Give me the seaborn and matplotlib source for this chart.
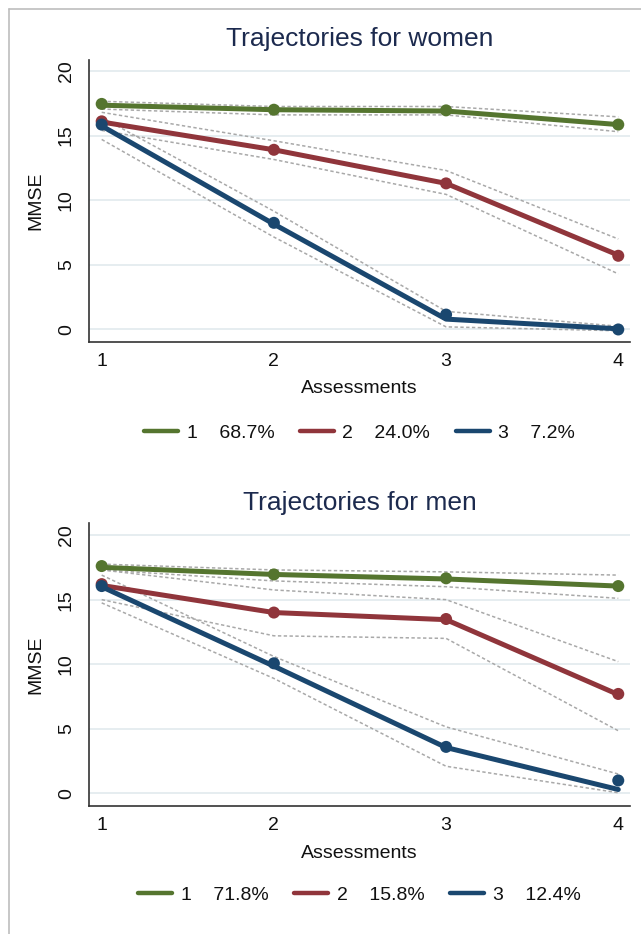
"""
Group-based MMSE trajectories for women and men (Stata-like look).
"""

import numpy as np
import pandas as pd
import matplotlib
matplotlib.use("Agg")
import matplotlib.pyplot as plt
from matplotlib.lines import Line2D
import seaborn as sns

# ---- data -------------------------------------------------------------
assessments = [1, 2, 3, 4]
groups = ["1", "2", "3"]
colors = ["#55752f", "#90353b", "#1a476f"]

# women
women_share = ["68.7%", "24.0%", "7.2%"]
women_obs = {
    "1": [17.45, 17.0, 16.95, 15.85],
    "2": [16.1, 13.9, 11.3, 5.7],
    "3": [15.85, 8.25, 1.15, 0.0],
}
women_pred = {
    "1": [17.35, 17.0, 16.9, 15.85],
    "2": [16.05, 13.9, 11.3, 5.75],
    "3": [15.75, 8.15, 0.8, 0.05],
}
women_upper = {
    "1": [17.65, 17.25, 17.25, 16.45],
    "2": [16.8, 14.6, 12.3, 7.0],
    "3": [16.4, 9.15, 1.4, 0.25],
}
women_lower = {
    "1": [17.05, 16.6, 16.6, 15.3],
    "2": [15.4, 13.15, 10.45, 4.3],
    "3": [14.7, 7.15, 0.2, -0.1],
}

# men
men_share = ["71.8%", "15.8%", "12.4%"]
men_obs = {
    "1": [17.6, 16.95, 16.65, 16.05],
    "2": [16.2, 14.0, 13.5, 7.7],
    "3": [16.05, 10.07, 3.6, 1.0],
}
men_pred = {
    "1": [17.5, 16.95, 16.6, 16.05],
    "2": [16.1, 14.0, 13.45, 7.65],
    "3": [16.0, 9.85, 3.55, 0.3],
}
men_upper = {
    "1": [17.75, 17.3, 17.15, 16.9],
    "2": [17.3, 15.75, 15.0, 10.2],
    "3": [16.9, 10.6, 5.15, 1.5],
}
men_lower = {
    "1": [17.3, 16.45, 16.0, 15.1],
    "2": [15.0, 12.2, 12.0, 4.85],
    "3": [14.75, 8.9, 2.1, 0.05],
}

yticks = [0, 5, 10, 15, 20]


def to_long(values):
    """Turn a {group: [values]} dict into a long dataframe."""
    rows = []
    for g in groups:
        for x, v in zip(assessments, values[g]):
            rows.append({"Assessments": x, "MMSE": v, "group": g})
    return pd.DataFrame(rows)


def draw_panel(ax, obs, pred, upper, lower, ylim):
    """Draw one trajectory panel."""
    palette = dict(zip(groups, colors))

    # confidence bands as thin dashed gray lines
    for g in groups:
        for band in (upper, lower):
            ax.plot(assessments, band[g], color="#a9a9a9", lw=1.1,
                    ls=(0, (2.2, 1.6)), zorder=2)

    sns.lineplot(data=to_long(pred), x="Assessments", y="MMSE", hue="group",
                 palette=palette, lw=3.6, legend=False, ax=ax, zorder=3)
    sns.scatterplot(data=to_long(obs), x="Assessments", y="MMSE", hue="group",
                    palette=palette, s=75, edgecolor="none", legend=False,
                    ax=ax, zorder=4)

    ax.set_xlim(0.928, 4.068)
    ax.set_ylim(*ylim)
    ax.set_xticks(assessments)
    ax.set_yticks(yticks)
    ax.grid(axis="y", color="#e4ecef", lw=1.3)
    ax.grid(axis="x", visible=False)
    ax.set_axisbelow(True)

    sns.despine(ax=ax)
    for side in ("left", "bottom"):
        ax.spines[side].set_color("#333333")
        ax.spines[side].set_linewidth(1.2)

    ax.tick_params(axis="both", direction="out", length=5.5, width=1.0,
                   color="#333333", labelsize=14, labelcolor="#111111")
    ax.tick_params(axis="x", pad=2.5)
    ax.tick_params(axis="y", pad=11)
    for lab in ax.get_yticklabels():
        lab.set_rotation(90)
        lab.set_va("center")
        lab.set_ha("center")

    ax.set_xlabel("Assessments", fontsize=14, color="#111111")
    ax.set_ylabel("MMSE", fontsize=14, color="#111111")
    ax.xaxis.label.set_va("center")
    ax.yaxis.label.set_va("center")
    ax.yaxis.label.set_ha("center")


sns.set_style("white")
plt.rcParams["font.family"] = ["Liberation Sans", "DejaVu Sans"]

fig = plt.figure(figsize=(6.41, 9.34), dpi=100)
fig.patch.set_facecolor("white")

ax_w = fig.add_axes([0.1393, 0.6342, 0.8435, 0.3016])
ax_m = fig.add_axes([0.1393, 0.1370, 0.8435, 0.3030])

draw_panel(ax_w, women_obs, women_pred, women_upper, women_lower, (-0.944, 20.85))
draw_panel(ax_m, men_obs, men_pred, men_upper, men_lower, (-0.98, 20.93))

ax_w.xaxis.set_label_coords(0.5, -0.168)
ax_m.xaxis.set_label_coords(0.5, -0.166)
ax_w.yaxis.set_label_coords(-0.099, 0.5)
ax_m.yaxis.set_label_coords(-0.099, 0.5)

title_color = "#1c2a4e"
fig.text(0.5608, 1 - 39 / 934, "Trajectories for women", fontsize=19,
         color=title_color, ha="center", va="center")
fig.text(0.5608, 1 - 503 / 934, "Trajectories for men", fontsize=19,
         color=title_color, ha="center", va="center")

# legends below each panel
for share, ypos in ((women_share, 1 - 433 / 934), (men_share, 1 - 895 / 934)):
    handles = [Line2D([0], [0], color=c, lw=3.2) for c in colors]
    labels = [f"{g}    {s}" for g, s in zip(groups, share)]
    fig.legend(handles, labels, loc="center", bbox_to_anchor=(0.5608, ypos),
               ncol=3, frameon=False, fontsize=14, handlelength=1.75,
               handletextpad=0.45, columnspacing=1.3, labelcolor="#111111")

# outer frame (top and left edges visible)
frame_kw = dict(color="#bdbdbd", lw=1.2, transform=fig.transFigure)
fig.add_artist(Line2D([9 / 641, 1.0], [1 - 9 / 934, 1 - 9 / 934], **frame_kw))
fig.add_artist(Line2D([9 / 641, 9 / 641], [1 - 9 / 934, 0.0], **frame_kw))

fig.savefig("out.png", dpi=100, facecolor="white")
